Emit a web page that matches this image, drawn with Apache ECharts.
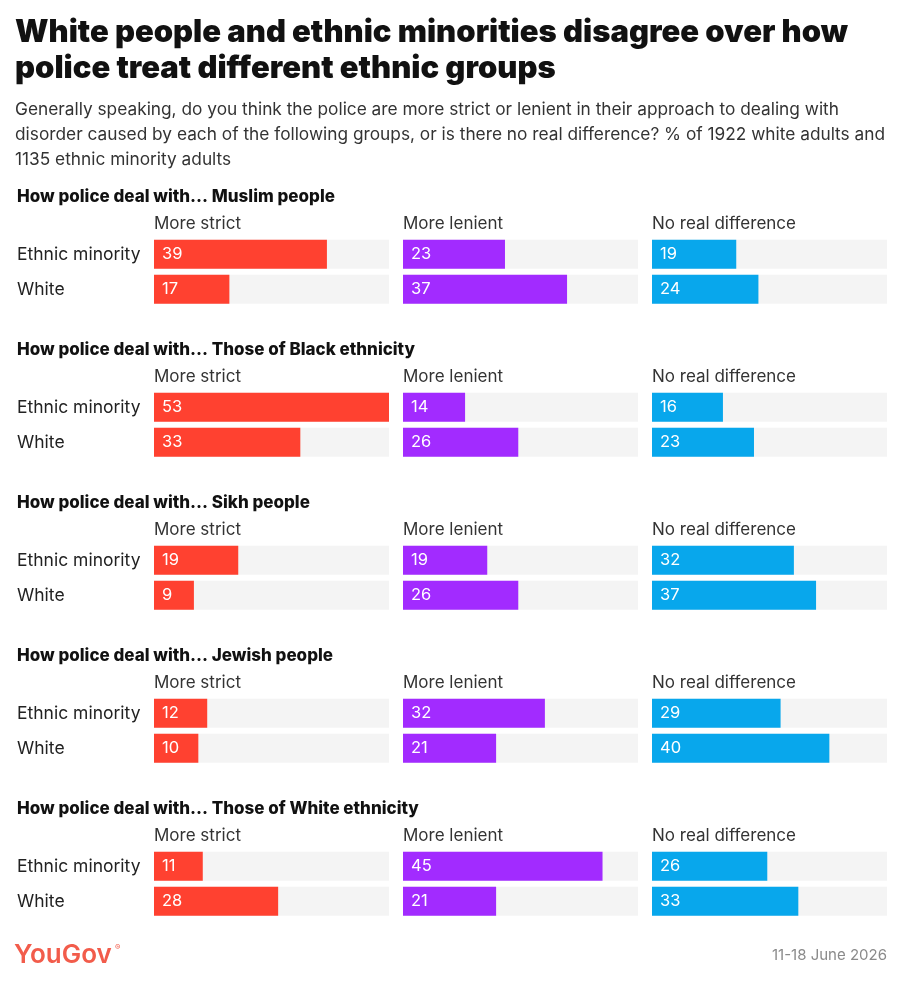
<!DOCTYPE html>
<html>
<head>
<meta charset="utf-8">
<script src="https://cdn.jsdelivr.net/npm/echarts@6/dist/echarts.min.js"></script>
<style>
html,body{margin:0;padding:0;background:#fff;}
#chart{width:903px;height:987px;}
</style>
</head>
<body>
<div id="chart"></div>
<script>
// ---- Data ----
const panelTitles = [
  "How police deal with... Muslim people",
  "How police deal with... Those of Black ethnicity",
  "How police deal with... Sikh people",
  "How police deal with... Jewish people",
  "How police deal with... Those of White ethnicity"
];
const groups = ["Ethnic minority", "White"];
const responses = ["More strict", "More lenient", "No real difference"];

const strictMinority  = [39, 53, 19, 12, 11];
const strictWhite     = [17, 33,  9, 10, 28];
const lenientMinority = [23, 14, 19, 32, 45];
const lenientWhite    = [37, 26, 26, 21, 21];
const noDiffMinority  = [19, 16, 32, 29, 26];
const noDiffWhite     = [24, 23, 37, 40, 33];

const titleText = "White people and ethnic minorities disagree over how\npolice treat different ethnic groups";
const subtitleLines = [
  "Generally speaking, do you think the police are more strict or lenient in their approach to dealing with",
  "disorder caused by each of the following groups, or is there no real difference? % of 1922 white adults and",
  "1135 ethnic minority adults"
];
const sourceText = "11-18 June 2026";
const logoText = "YouGov";

// ---- Styling ----
const colors = ["#ff4130", "#a22bff", "#08a7ec"];
const REG = "Inter, 'Noto Sans', sans-serif";

const colMinority = [strictMinority, lenientMinority, noDiffMinority];
const colWhite = [strictWhite, lenientWhite, noDiffWhite];
const globalMax = Math.max(...strictMinority, ...strictWhite, ...lenientMinority, ...lenientWhite, ...noDiffMinority, ...noDiffWhite);

const chart = echarts.init(document.getElementById('chart'), null, {renderer: 'canvas'});

const grids = [], xAxes = [], yAxes = [], series = [], graphics = [];
const panelStep = 153;
const colLeft0 = 154, colStep = 249, colWidth = 235;

for (let p = 0; p < panelTitles.length; p++) {
  const py = p * panelStep;
  graphics.push({
    type: 'text', left: 17, top: 188 + py,
    style: {text: panelTitles[p], font: "800 17px " + REG, fill: '#111'}
  });
  for (let c = 0; c < 3; c++) {
    const idx = grids.length;
    const left = colLeft0 + c * colStep;
    grids.push({left: left, width: colWidth, top: 236.85 + py, height: 70, containLabel: false});
    graphics.push({
      type: 'text', left: left, top: 215 + py,
      style: {text: responses[c], font: "17px " + REG, fill: '#333'}
    });
    xAxes.push({type: 'value', gridIndex: idx, min: 0, max: globalMax, show: false});
    yAxes.push({
      type: 'category', gridIndex: idx, data: groups, inverse: true,
      axisLine: {show: false}, axisTick: {show: false},
      axisLabel: {
        show: c === 0, align: 'left', margin: 137,
        fontFamily: REG, fontSize: 17.5, color: '#222',
        padding: [3, 0, 0, 0]
      }
    });
    series.push({
      type: 'bar', xAxisIndex: idx, yAxisIndex: idx,
      data: [colMinority[c][p], colWhite[c][p]],
      barWidth: 29,
      itemStyle: {color: colors[c]},
      showBackground: true,
      backgroundStyle: {color: '#f4f4f4'},
      label: {
        show: true, position: 'insideLeft', distance: 8,
        color: '#fff', fontFamily: REG, fontSize: 16.5
      },
      silent: true, animation: false
    });
  }
}

// Title and subtitle
graphics.push({
  type: 'text', left: 15, top: 15,
  style: {text: titleText, font: "900 31px " + REG, fill: '#111', lineHeight: 36}
});
subtitleLines.forEach((t, i) => {
  graphics.push({
    type: 'text', left: 15, top: 101 + i * 25,
    style: {text: t, font: "17.3px " + REG, fill: '#333'}
  });
});
// Footer
graphics.push({
  type: 'text', left: 14, top: 942,
  style: {text: logoText, font: "600 26px " + REG, fill: '#f25c4b'}
});
graphics.push({
  type: 'text', left: 115, top: 944,
  style: {text: "®", font: "8px " + REG, fill: '#f25c4b'}
});
graphics.push({
  type: 'text', right: 16, top: 948,
  style: {text: sourceText, font: "15px " + REG, fill: '#8a8a8a'}
});

chart.setOption({
  backgroundColor: '#fff',
  animation: false,
  grid: grids,
  xAxis: xAxes,
  yAxis: yAxes,
  series: series,
  graphic: graphics
});
</script>
</body>
</html>
